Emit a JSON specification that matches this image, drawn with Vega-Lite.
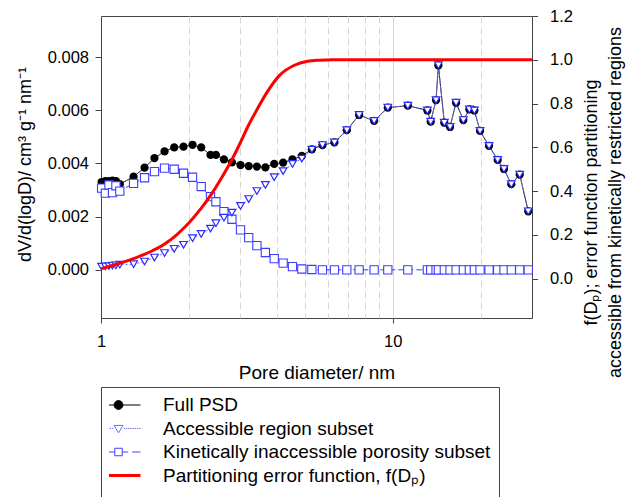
{
  "$schema": "https://vega.github.io/schema/vega-lite/v6.json",
  "width": 431,
  "height": 302,
  "autosize": {"type": "none"},
  "padding": {"left": 101, "top": 16, "right": 96, "bottom": 179},
  "config": {
    "font": "Liberation Sans",
    "view": {"stroke": "#444", "strokeWidth": 1},
    "axis": {"labelFontSize": 16.5, "titleFontSize": 19, "titleFontWeight": "normal", "labelColor": "black", "titleColor": "black", "tickColor": "#444", "domain": false, "grid": false, "labelFlush": false, "labelOverlap": false},
    "legend": {"labelFontSize": 19, "labelColor": "black", "labelLimit": 700}
  },
  "datasets": {
    "psd": [
      {"D": 1.005, "full": 0.00330, "acc": 0.00012, "inacc": 0.00307},
      {"D": 1.035, "full": 0.00333, "acc": 0.00013, "inacc": 0.00288},
      {"D": 1.065, "full": 0.00333, "acc": 0.00014, "inacc": 0.00319},
      {"D": 1.095, "full": 0.00335, "acc": 0.00016, "inacc": 0.00290},
      {"D": 1.125, "full": 0.00333, "acc": 0.00017, "inacc": 0.00316},
      {"D": 1.16, "full": 0.00322, "acc": 0.00019, "inacc": 0.00296},
      {"D": 1.293, "full": 0.00350, "acc": 0.00021, "inacc": 0.00325},
      {"D": 1.41, "full": 0.00384, "acc": 0.00031, "inacc": 0.00346},
      {"D": 1.525, "full": 0.00420, "acc": 0.00046, "inacc": 0.00369},
      {"D": 1.651, "full": 0.00445, "acc": 0.00063, "inacc": 0.00382},
      {"D": 1.782, "full": 0.00460, "acc": 0.00079, "inacc": 0.00378},
      {"D": 1.918, "full": 0.00463, "acc": 0.00094, "inacc": 0.00363},
      {"D": 2.059, "full": 0.00470, "acc": 0.00119, "inacc": 0.00348},
      {"D": 2.205, "full": 0.00460, "acc": 0.00135, "inacc": 0.00313},
      {"D": 2.373, "full": 0.00432, "acc": 0.00155, "inacc": 0.00275},
      {"D": 2.477, "full": 0.00432, "acc": 0.00175, "inacc": 0.00256},
      {"D": 2.638, "full": 0.00415, "acc": 0.00196, "inacc": 0.00219},
      {"D": 2.81, "full": 0.00404, "acc": 0.00215, "inacc": 0.00190},
      {"D": 3.007, "full": 0.00394, "acc": 0.00240, "inacc": 0.00150},
      {"D": 3.208, "full": 0.00390, "acc": 0.00266, "inacc": 0.00121},
      {"D": 3.422, "full": 0.00388, "acc": 0.00296, "inacc": 0.00091},
      {"D": 3.659, "full": 0.00385, "acc": 0.00319, "inacc": 0.00065},
      {"D": 3.923, "full": 0.00398, "acc": 0.00348, "inacc": 0.00042},
      {"D": 4.21, "full": 0.00403, "acc": 0.00371, "inacc": 0.00025},
      {"D": 4.531, "full": 0.00415, "acc": 0.00398, "inacc": 0.00012},
      {"D": 4.879, "full": 0.00428, "acc": 0.00418, "inacc": 0.00003},
      {"D": 5.281, "full": 0.00453, "acc": 0.00452, "inacc": 0.00001},
      {"D": 5.741, "full": 0.00469, "acc": 0.00469, "inacc": 0},
      {"D": 6.31, "full": 0.00479, "acc": 0.00479, "inacc": 0},
      {"D": 6.958, "full": 0.00525, "acc": 0.00525, "inacc": 0},
      {"D": 7.667, "full": 0.00582, "acc": 0.00582, "inacc": 0},
      {"D": 8.63, "full": 0.00560, "acc": 0.00560, "inacc": 0},
      {"D": 9.614, "full": 0.00610, "acc": 0.00610, "inacc": 0},
      {"D": 11.26, "full": 0.00617, "acc": 0.00617, "inacc": 0},
      {"D": 13.14, "full": 0.00599, "acc": 0.00599, "inacc": 0},
      {"D": 13.49, "full": 0.00557, "acc": 0.00557, "inacc": 0},
      {"D": 14.07, "full": 0.00638, "acc": 0.00638, "inacc": 0},
      {"D": 14.33, "full": 0.00769, "acc": 0.00769, "inacc": 0},
      {"D": 15.02, "full": 0.00553, "acc": 0.00553, "inacc": 0},
      {"D": 15.71, "full": 0.00537, "acc": 0.00537, "inacc": 0},
      {"D": 16.48, "full": 0.00628, "acc": 0.00628, "inacc": 0},
      {"D": 17.45, "full": 0.00563, "acc": 0.00563, "inacc": 0},
      {"D": 18.3, "full": 0.00603, "acc": 0.00603, "inacc": 0},
      {"D": 19.04, "full": 0.00599, "acc": 0.00599, "inacc": 0},
      {"D": 19.91, "full": 0.00522, "acc": 0.00522, "inacc": 0},
      {"D": 21.37, "full": 0.00466, "acc": 0.00466, "inacc": 0},
      {"D": 22.88, "full": 0.00413, "acc": 0.00413, "inacc": 0},
      {"D": 24.05, "full": 0.00379, "acc": 0.00379, "inacc": 0},
      {"D": 25.48, "full": 0.00322, "acc": 0.00322, "inacc": 0},
      {"D": 27.23, "full": 0.00358, "acc": 0.00358, "inacc": 0},
      {"D": 29.13, "full": 0.00220, "acc": 0.00220, "inacc": 0}
    ],
    "erf": [
      {"D": 1.0, "f": 0.045, "s": "erf"},
      {"D": 1.1, "f": 0.062, "s": "erf"},
      {"D": 1.2, "f": 0.077, "s": "erf"},
      {"D": 1.3, "f": 0.093, "s": "erf"},
      {"D": 1.4, "f": 0.11, "s": "erf"},
      {"D": 1.5, "f": 0.128, "s": "erf"},
      {"D": 1.6, "f": 0.147, "s": "erf"},
      {"D": 1.7, "f": 0.17, "s": "erf"},
      {"D": 1.8, "f": 0.196, "s": "erf"},
      {"D": 1.9, "f": 0.225, "s": "erf"},
      {"D": 2.0, "f": 0.255, "s": "erf"},
      {"D": 2.2, "f": 0.32, "s": "erf"},
      {"D": 2.4, "f": 0.39, "s": "erf"},
      {"D": 2.6, "f": 0.465, "s": "erf"},
      {"D": 2.8, "f": 0.54, "s": "erf"},
      {"D": 3.0, "f": 0.62, "s": "erf"},
      {"D": 3.2, "f": 0.70, "s": "erf"},
      {"D": 3.4, "f": 0.765, "s": "erf"},
      {"D": 3.7, "f": 0.85, "s": "erf"},
      {"D": 4.1, "f": 0.93, "s": "erf"},
      {"D": 4.6, "f": 0.975, "s": "erf"},
      {"D": 5.1, "f": 0.993, "s": "erf"},
      {"D": 5.6, "f": 0.998, "s": "erf"},
      {"D": 6.2, "f": 1.0, "s": "erf"},
      {"D": 30, "f": 1.0, "s": "erf"}
    ]
  },
  "encoding": {
    "x": {
      "field": "D", "type": "quantitative",
      "scale": {"type": "log", "domain": [1, 30], "nice": false},
      "axis": {
        "title": "Pore diameter/ nm",
        "values": [1, 2, 3, 4, 5, 6, 7, 8, 9, 10, 20],
        "labelExpr": "datum.value == 1 || datum.value == 10 ? datum.label : ''",
        "grid": true,
        "gridColor": "#d6d6d6",
        "gridWidth": 1,
        "gridDash": {"condition": {"test": "datum.value == 10", "value": []}, "value": [7, 4]},
        "gridOpacity": {"condition": {"test": "datum.value == 1", "value": 0}, "value": 1},
        "tickOpacity": {"condition": {"test": "datum.value == 1 || datum.value == 10", "value": 1}, "value": 0},
        "tickSize": 5,
        "labelPadding": 10,
        "titleY": 54,
        "titleBaseline": "middle"
      }
    }
  },
  "layer": [
    {
      "data": {"name": "psd"},
      "transform": [{"fold": ["full", "acc", "inacc"], "as": ["s", "v"]}],
      "encoding": {
        "y": {
          "field": "v", "type": "quantitative",
          "scale": {"domain": [-0.001812, 0.009542], "nice": false, "zero": false},
          "axis": {
            "orient": "left",
            "values": [0, 0.002, 0.004, 0.006, 0.008],
            "format": ".3f",
            "tickSize": 6,
            "labelPadding": 6.5,
            "title": "dV/d(logD)/ cm³ g⁻¹ nm⁻¹",
            "titleFontSize": 18,
            "titleAngle": 270,
            "titleX": -76,
            "titleY": 148,
            "titleAlign": "center",
            "titleBaseline": "middle"
          }
        }
      },
      "layer": [
        {
          "mark": {"type": "line", "strokeWidth": 1},
          "encoding": {
            "stroke": {
              "field": "s", "type": "nominal",
              "scale": {"domain": ["full", "acc", "inacc", "erf"], "range": ["#000000", "#6b6bff", "#4040ff", "#ff0000"]},
              "legend": {
                "orient": "none", "legendX": 0, "legendY": 371,
                "title": " ", "titleOrient": "bottom", "titleFontSize": 8, "titlePadding": 0,
                "labelExpr": "datum.value == 'full' ? 'Full PSD' : datum.value == 'acc' ? 'Accessible region subset' : datum.value == 'inacc' ? 'Kinetically inaccessible porosity subset' : 'Partitioning error function, f(Dₚ)'",
                "symbolSize": 1936, "clipHeight": 20, "rowPadding": 3.5, "labelOffset": 35, "padding": 8,
                "strokeColor": "#444", "fillColor": "white",
                "encode": {
                  "symbols": {
                    "update": {
                      "shape": {"signal": "datum.value == 'full' ? 'M-1,0H1M0.2,0A0.2,0.2,0,1,1,-0.2,0A0.2,0.2,0,1,1,0.2,0Z' : datum.value == 'acc' ? 'M-1,0h0.06M-0.9,0h0.06M-0.8,0h0.06M-0.7,0h0.06M-0.6,0h0.06M-0.5,0h0.06M-0.4,0h0.06M-0.3,0h0.06M0.24,0h0.06M0.34,0h0.06M0.44,0h0.06M0.54,0h0.06M0.64,0h0.06M0.74,0h0.06M0.84,0h0.06M0.94,0h0.06M-0.2,-0.14L0.2,-0.14L0,0.2Z' : datum.value == 'inacc' ? 'M-1,0H-0.62M-0.44,0H-0.17M0.17,0H0.44M0.62,0H1M-0.17,-0.17H0.17V0.17H-0.17Z' : 'M-1,0H1'"},
                      "size": {"value": 1936},
                      "fill": {"signal": "datum.value == 'full' ? '#000000' : datum.value == 'erf' ? 'transparent' : '#ffffff'"},
                      "stroke": {"signal": "datum.value == 'full' ? '#000000' : datum.value == 'acc' ? '#4d4dff' : datum.value == 'inacc' ? '#3c3cff' : '#ff0000'"},
                      "strokeWidth": {"signal": "datum.value == 'erf' ? 3 : 1"},
                      "strokeDash": {"value": []},
                      "opacity": {"value": 1}
                    }
                  }
                }
              }
            },
            "strokeDash": {
              "field": "s", "type": "nominal",
              "scale": {"domain": ["full", "acc", "inacc"], "range": [[1, 0], [2, 2], [6, 3]]},
              "legend": null
            }
          }
        },
        {
          "transform": [{"filter": "datum.s == 'full'"}],
          "mark": {"type": "point", "shape": "circle", "filled": true, "color": "#000000", "size": 68, "opacity": 1}
        },
        {
          "transform": [{"filter": "datum.s == 'inacc'"}],
          "mark": {"type": "point", "shape": "square", "filled": true, "fill": "#ffffff", "stroke": "#3c3cff", "strokeWidth": 1.1, "size": 68, "opacity": 1}
        },
        {
          "transform": [{"filter": "datum.s == 'acc'"}],
          "mark": {"type": "point", "shape": "triangle-down", "filled": true, "fill": "#ffffff", "stroke": "#2b2bff", "strokeWidth": 1.2, "size": 58, "opacity": 1}
        }
      ]
    },
    {
      "data": {"name": "erf"},
      "mark": {"type": "line", "strokeWidth": 3, "interpolate": "monotone"},
      "encoding": {
        "y": {
          "field": "f", "type": "quantitative",
          "scale": {"domain": [-0.1791, 1.2], "nice": false, "zero": false},
          "axis": {
            "orient": "right",
            "values": [0, 0.2, 0.4, 0.6, 0.8, 1.0, 1.2],
            "format": ".1f",
            "tickSize": 5.5,
            "labelPadding": 12,
            "title": ["f(Dₚ); error function partitioning", "accessible from kinetically restricted regions"],
            "titleFontSize": 18,
            "titleAngle": 270,
            "titleX": 59,
            "titleY": 186,
            "titleAlign": "center",
            "titleBaseline": "middle",
            "titleLineHeight": 24
          }
        },
        "stroke": {
          "field": "s", "type": "nominal",
          "scale": {"domain": ["full", "acc", "inacc", "erf"], "range": ["#000000", "#6b6bff", "#4040ff", "#ff0000"]}
        }
      }
    }
  ],
  "resolve": {"scale": {"y": "independent"}}
}
